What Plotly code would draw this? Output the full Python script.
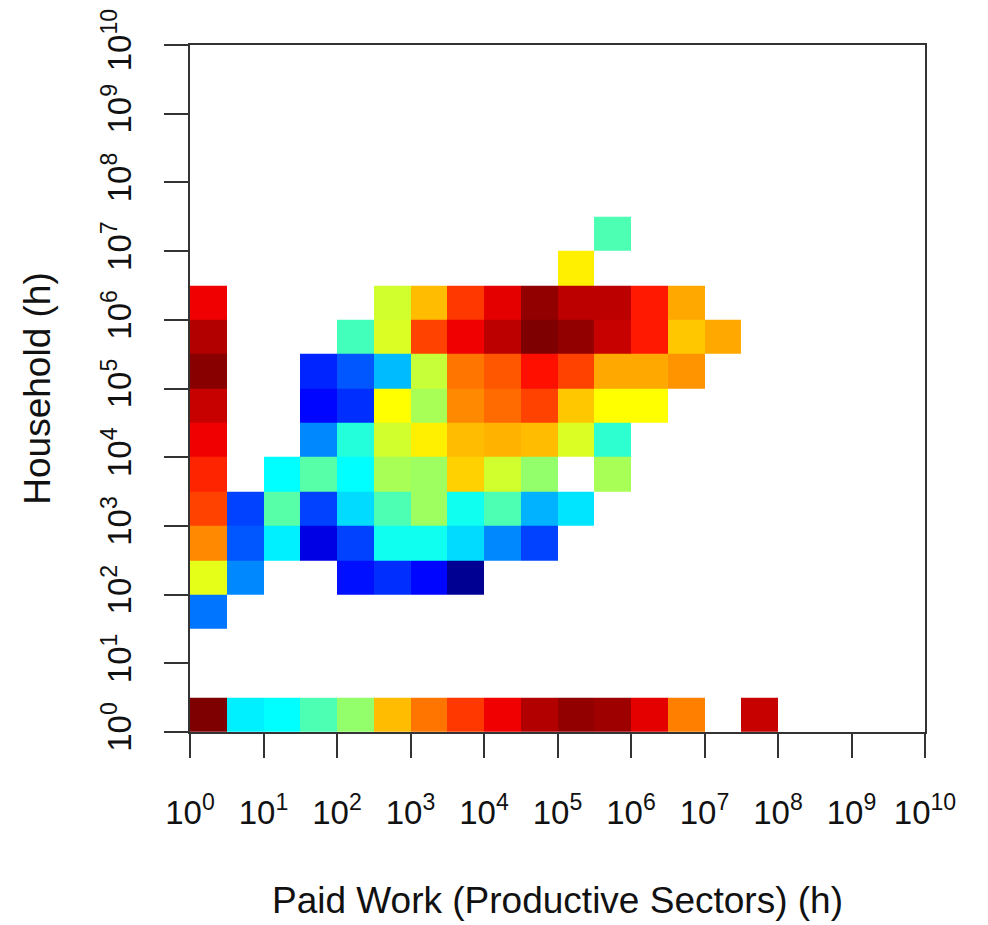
import plotly.graph_objects as go

# Bin edges: half-decade bins in both directions
x_edges = [10 ** (0.5 * i) for i in range(17)]   # 10^0 ... 10^8
y_edges = [10 ** (0.5 * j) for j in range(16)]   # 10^0 ... 10^7.5

tick_vals = [10 ** k for k in range(11)]
tick_text = ["10<sup>%d</sup>" % k for k in range(11)]

N = None
# colour level (0..1 on jet scale), rows from bottom (10^0) to top
row_00 = [1.00, 0.36, 0.375, 0.45, 0.52, 0.69, 0.76, 0.82, 0.89, 0.95, 0.98, 0.97, 0.90, 0.75, N, 0.93]
row_01 = [N] * 16
row_02 = [N] * 16
row_03 = [0.24, N, N, N, N, N, N, N, N, N, N, N, N, N, N, N]
row_04 = [0.60, 0.26, N, N, 0.14, 0.17, 0.13, 0.02, N, N, N, N, N, N, N, N]
row_05 = [0.74, 0.21, 0.36, 0.10, 0.19, 0.39, 0.39, 0.34, 0.26, 0.19, N, N, N, N, N, N]
row_06 = [0.81, 0.19, 0.46, 0.19, 0.34, 0.45, 0.53, 0.39, 0.45, 0.30, 0.35, N, N, N, N, N]
row_07 = [0.84, N, 0.375, 0.46, 0.375, 0.54, 0.53, 0.67, 0.58, 0.52, N, 0.54, N, N, N, N]
row_08 = [0.89, N, N, 0.26, 0.41, 0.58, 0.64, 0.69, 0.70, 0.69, 0.59, 0.42, N, N, N, N]
row_09 = [0.93, N, N, 0.13, 0.17, 0.625, 0.54, 0.74, 0.77, 0.81, 0.68, 0.625, 0.625, N, N, N]
row_10 = [0.99, N, N, 0.16, 0.21, 0.31, 0.57, 0.76, 0.79, 0.86, 0.81, 0.71, 0.71, 0.73, N, N]
row_11 = [0.95, N, N, N, 0.44, 0.59, 0.81, 0.89, 0.94, 1.00, 0.98, 0.93, 0.85, 0.68, 0.71, N]
row_12 = [0.89, N, N, N, N, 0.58, 0.69, 0.82, 0.90, 0.98, 0.94, 0.94, 0.85, 0.71, N, N]
row_13 = [N, N, N, N, N, N, N, N, N, N, 0.64, N, N, N, N, N]
row_14 = [N, N, N, N, N, N, N, N, N, N, N, 0.45, N, N, N, N]

z = [row_00, row_01, row_02, row_03, row_04, row_05, row_06, row_07,
     row_08, row_09, row_10, row_11, row_12, row_13, row_14]

jet = [
    [0.0, "#00007F"], [0.125, "#0000FF"], [0.25, "#007FFF"], [0.375, "#00FFFF"],
    [0.5, "#7FFF7F"], [0.625, "#FFFF00"], [0.75, "#FF7F00"], [0.875, "#FF0000"],
    [1.0, "#7F0000"],
]

fig = go.Figure(go.Heatmap(
    x=x_edges, y=y_edges, z=z, zmin=0, zmax=1,
    colorscale=jet, showscale=False, hoverongaps=False,
))

font_family = "Liberation Sans, Arial, sans-serif"
axis_common = dict(
    type="log", range=[0, 10], tickmode="array", tickvals=tick_vals, ticktext=tick_text,
    showline=True, linecolor="#333333", linewidth=2, mirror=True,
    ticks="outside", ticklen=24, tickwidth=1.5, tickcolor="#333333",
    showgrid=False, zeroline=False, automargin=False,
    tickfont=dict(family=font_family, size=33, color="#111111"),
)

fig.update_xaxes(**axis_common, ticklabelstandoff=26,
                 title=dict(text="Paid Work (Productive Sectors) (h)",
                            font=dict(family=font_family, size=37, color="#111111"),
                            standoff=58))
fig.update_yaxes(**axis_common, tickangle=-90, ticklabelstandoff=20,
                 title=dict(text="Household (h)",
                            font=dict(family=font_family, size=37, color="#111111"),
                            standoff=34))

# the page body has an 8px default margin; size the figure to fit the window
fig.update_layout(
    width=980, height=917,
    margin=dict(l=182, r=63, t=37, b=193),
    paper_bgcolor="white", plot_bgcolor="white",
    font=dict(family=font_family),
)

fig.write_html("out.html")
